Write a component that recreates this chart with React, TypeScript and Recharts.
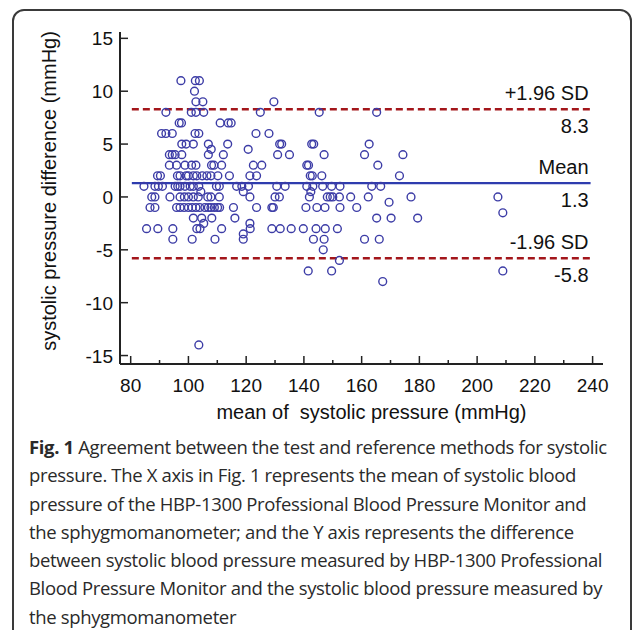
import React from "react"
import { ScatterChart, Scatter, XAxis, YAxis, ReferenceLine } from "recharts"

// Bland-Altman data: each difference level with the means plotted on it
const diffLevels = [11, 10, 9, 8, 7, 6, 5, 4.5, 4, 3, 2, 1, 0.5, 0, -0.5, -1, -1.5, -2, -2.5, -3, -3.5, -4, -5, -6, -7, -8, -14]
const meansAtLevel = [
  [97.4, 102.4, 103.8],
  [102.1],
  [102.6, 105, 129.6],
  [92.2, 101, 102.6, 105.3, 124.9, 145.3, 165.2],
  [96.8, 97.6, 111, 113.8, 114.8],
  [90.7, 92.2, 94.4, 102.3, 103.6, 123.4, 127.9],
  [97.7, 99.2, 101.7, 106.9, 113.6, 131.6, 132.3, 142.7, 143.4, 162.6],
  [107.9, 120.7],
  [93.4, 94.4, 95.4, 97.7, 106.9, 112.1, 130.9, 135, 147, 161, 174.3],
  [93.4, 95.9, 98.8, 101.1, 102.6, 108, 108.8, 111.5, 122.5, 125.4, 141, 141.6, 165.6],
  [89.3, 90.3, 96.2, 97.1, 99.2, 100, 101.7, 102.9, 104.8, 106.4, 107.8, 110.2, 114.2, 121.3, 123.6, 142.2, 142.9, 146.2, 173.1],
  [84.6, 88.4, 89.6, 91, 95.4, 96.3, 97.1, 98.8, 100.6, 101.7, 103.6, 109.7, 110.7, 116.7, 118.5, 120.8, 130.6, 133.5, 141, 143.1, 146.5, 149.6, 152.5, 163.5, 166.6],
  [104.3, 119, 142.4],
  [87.3, 88.4, 93.6, 97.1, 98.6, 100, 101.7, 103.4, 106.7, 107.8, 110.7, 121.3, 130, 131.5, 141.9, 148.1, 149.1, 150, 152.3, 156.2, 162.3, 177.1, 207.2],
  [169.5],
  [86.7, 88.4, 95.9, 97.1, 98.5, 100, 101.3, 102.6, 103.9, 105.7, 106.9, 107.8, 109, 110.1, 110.8, 115.6, 123.6, 128.9, 129.4, 140.7, 144.5, 147.3, 152.5, 158.3],
  [208.9],
  [101.7, 104.6, 108.1, 116.1, 165.2, 170.2, 179.4],
  [105.3, 121.3],
  [85.5, 89.4, 94.6, 102.9, 104, 111.5, 121.4, 128.9, 131.8, 135.6, 139.8, 144.2, 147.4, 151.6],
  [119],
  [94.6, 101.3, 109.2, 119, 143.3, 147, 161, 166.1],
  [146.7],
  [152.3],
  [141.5, 149.6, 208.9],
  [167.3],
  [103.6],
]

const upperLimit = 8.3
const meanDiff = 1.3
const lowerLimit = -5.8

const xTicks = [80, 90, 100, 110, 120, 130, 140, 150, 160, 170, 180, 190, 200, 210, 220, 230, 240]
const yTicks = [-15, -10, -5, 0, 5, 10, 15]

const captionLines = [
  "Agreement between the test and reference methods for systolic",
  "pressure. The X axis in Fig. 1 represents the mean of systolic blood",
  "pressure of the HBP-1300 Professional Blood Pressure Monitor and",
  "the sphygmomanometer; and the Y axis represents the difference",
  "between systolic blood pressure measured by HBP-1300 Professional",
  "Blood Pressure Monitor and the systolic blood pressure measured by",
  "the sphygmomanometer",
]

const points = diffLevels.flatMap((d, i) => meansAtLevel[i].map((m) => ({ x: m, y: d })))

const axisFont = "'Liberation Sans', Arial, sans-serif"
const axisColor = "#222"

const XTick = (props: any) => {
  const { x, y, payload } = props
  const major = payload.value % 20 === 0
  return (
    <g>
      <line x1={x} x2={x} y1={y} y2={y - (major ? 8 : 4)} stroke={axisColor} strokeWidth={1.5} />
      {major && (
        <text x={x} y={y + 28} textAnchor="middle" fontSize={19} fontFamily={axisFont} fill="#111">
          {payload.value}
        </text>
      )}
    </g>
  )
}

const YTick = (props: any) => {
  const { x, y, payload } = props
  return (
    <g>
      <line x1={x} x2={x + 8} y1={y} y2={y} stroke={axisColor} strokeWidth={1.5} />
      <text x={x - 7} y={y + 7} textAnchor="end" fontSize={19} fontFamily={axisFont} fill="#111">
        {payload.value}
      </text>
    </g>
  )
}

const limitLabel = (above: string, below: string) => (props: any) => {
  const vb = props.viewBox || {}
  const right = (vb.x ?? 0) + (vb.width ?? 0) - 2
  const y = vb.y ?? 0
  return (
    <g fontSize={20} fontFamily={axisFont} fill="#111">
      <text x={right} y={y - 9.5} textAnchor="end">{above}</text>
      <text x={right} y={y + 23.4} textAnchor="end">{below}</text>
    </g>
  )
}

const Dot = (props: any) => (
  <circle cx={props.cx} cy={props.cy} r={3.9} fill="none" stroke="#3c3ca6" strokeWidth={1.4} />
)

export default function App() {
  return (
    <div style={{ position: "absolute", left: 0, top: 0, width: 637, height: 630, overflow: "hidden", background: "#fff" }}>
      <div
        style={{
          position: "absolute", left: 12, top: 9, width: 620, height: 650,
          border: "2px solid #3a3a3a", borderRadius: 12, boxSizing: "border-box",
        }}
      />
      <div style={{ position: "absolute", left: 0, top: 0 }}>
        <ScatterChart width={637} height={430} margin={{ top: 32, right: 34, left: 60, bottom: 36 }}>
          <XAxis
            type="number"
            dataKey="x"
            domain={[76.3, 243.6]}
            ticks={xTicks}
            interval={0}
            allowDataOverflow
            height={30}
            tickSize={0}
            tickMargin={0}
            tickLine={false}
            tick={<XTick />}
            axisLine={{ stroke: axisColor, strokeWidth: 2 }}
            label={{
              content: (p: any) => (
                <text
                  x={p.viewBox.x + p.viewBox.width / 2 + 10}
                  y={p.viewBox.y + 55}
                  textAnchor="middle"
                  fontSize={20}
                  fontFamily={axisFont}
                  fill="#111"
                  style={{ whiteSpace: "pre" }}
                >
                  {"mean of  systolic pressure (mmHg)"}
                </text>
              ),
            }}
          />
          <YAxis
            type="number"
            dataKey="y"
            domain={[-15.8, 15.6]}
            ticks={yTicks}
            interval={0}
            allowDataOverflow
            width={60}
            tickSize={0}
            tickMargin={0}
            tickLine={false}
            tick={<YTick />}
            axisLine={{ stroke: axisColor, strokeWidth: 2 }}
            label={{
              content: (p: any) => (
                <text
                  transform={`translate(${p.viewBox.x - 4}, ${p.viewBox.y + 159}) rotate(-90)`}
                  textAnchor="middle"
                  fontSize={20}
                  fontFamily={axisFont}
                  fill="#111"
                >
                  systolic pressure difference (mmHg)
                </text>
              ),
            }}
          />
          <ReferenceLine
            segment={[{ x: 80.4, y: upperLimit }, { x: 239.3, y: upperLimit }]}
            stroke="#a3161b"
            strokeWidth={2.4}
            strokeDasharray="7 4"
            label={{ content: limitLabel("+1.96 SD", String(upperLimit)) }}
          />
          <ReferenceLine
            segment={[{ x: 80.4, y: meanDiff }, { x: 239.3, y: meanDiff }]}
            stroke="#2e3cae"
            strokeWidth={2.2}
            label={{ content: limitLabel("Mean", String(meanDiff)) }}
          />
          <ReferenceLine
            segment={[{ x: 80.4, y: lowerLimit }, { x: 239.3, y: lowerLimit }]}
            stroke="#a3161b"
            strokeWidth={2.4}
            strokeDasharray="7 4"
            label={{ content: limitLabel("-1.96 SD", String(lowerLimit)) }}
          />
          <Scatter data={points} shape={<Dot />} isAnimationActive={false} />
        </ScatterChart>
      </div>
      <div
        style={{
          position: "absolute", left: 29, top: 433, fontFamily: "'Open Sans', sans-serif",
          fontSize: 18.5, lineHeight: "28.3px", letterSpacing: "-0.35px", color: "#2a2a2a",
        }}
      >
        {captionLines.map((line, i) => (
          <div key={i} style={{ whiteSpace: "nowrap" }}>
            {i === 0 && <b>Fig. 1 </b>}
            {line}
          </div>
        ))}
      </div>
    </div>
  )
}
